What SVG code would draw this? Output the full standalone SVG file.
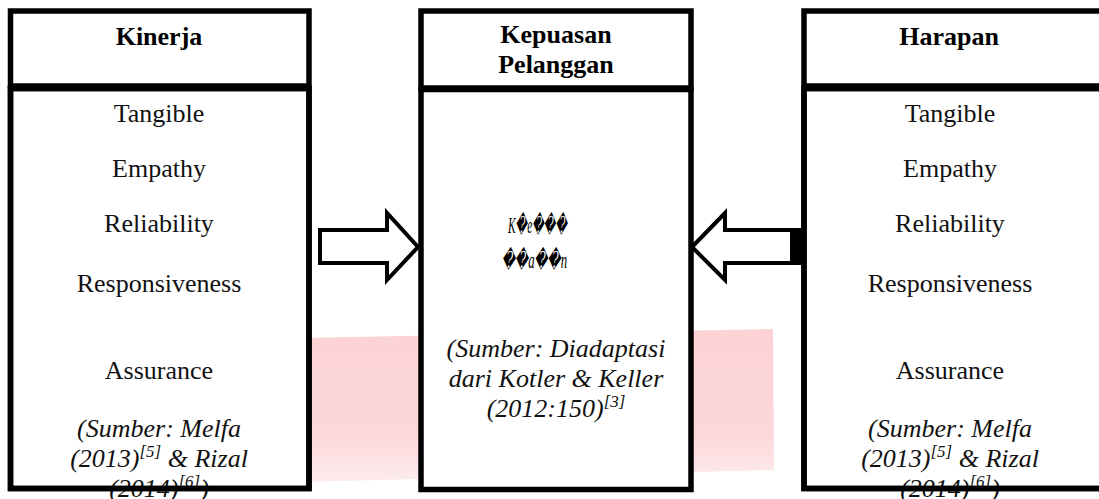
<svg xmlns="http://www.w3.org/2000/svg" width="1099" height="499" viewBox="0 0 1099 499">
<defs>
<linearGradient id="wm" x1="0" y1="0" x2="0" y2="1">
<stop offset="0" stop-color="#fcd2d5"/>
<stop offset="0.7" stop-color="#fcd8da"/>
<stop offset="1" stop-color="#fdeced"/>
</linearGradient>
<style>
.box{fill:#fff;stroke:#000;stroke-width:5.5}
.frame{fill:none;stroke:#000;stroke-width:5.5}
.arrow{fill:#fff;stroke:#000;stroke-width:4;stroke-linejoin:miter}
text{font-family:"Liberation Serif","Times New Roman",serif;font-size:26px;fill:#111;text-anchor:middle}
.h{font-weight:bold;fill:#000}
.it{font-style:italic}
.sup{font-size:17px}
.g{font-style:italic;font-size:23px;font-family:"Liberation Serif","DejaVu Serif",serif;text-anchor:start;fill:#000}
</style>
</defs>
<rect width="1099" height="499" fill="#fff"/>
<g id="watermark">
<polygon points="300,338 773,329 774,470 300,482" fill="url(#wm)"/>
</g>
<g id="connectors">
<polygon class="arrow" points="320,230 387,230 387,213 418,247 387,280 387,263 320,263"/>
<polygon class="arrow" points="692,247 725,213 725,230 800,230 800,263 725,263 725,280"/>
<rect x="790" y="228" width="15" height="37" fill="#000"/>
</g>
<g id="kinerja">
<rect class="box" x="10.5" y="11" width="298.5" height="75"/>
<rect class="box" x="10.5" y="88.5" width="298.5" height="400"/>
<text class="h" x="159" y="45">Kinerja</text>
<text x="159" y="122">Tangible</text>
<text x="159" y="177">Empathy</text>
<text x="159" y="232">Reliability</text>
<text x="159" y="292">Responsiveness</text>
<text x="159" y="379">Assurance</text>
<text class="it" x="159" y="437">(Sumber: Melfa</text>
<text class="it" x="159" y="467">(2013)<tspan class="sup" dy="-10">[5]</tspan><tspan dy="10"> &amp; Rizal</tspan></text>
<text class="it" x="159" y="497">(2014)<tspan class="sup" dy="-10">[6]</tspan><tspan dy="10">)</tspan></text>
<rect class="frame" x="10.5" y="88.5" width="298.5" height="400"/>
</g>
<g id="kepuasan">
<rect class="box" x="421" y="11" width="270" height="77"/>
<rect class="box" x="421" y="89.5" width="270" height="400"/>
<text class="h" x="556" y="43">Kepuasan</text>
<text class="h" x="556" y="73">Pelanggan</text>
<text class="g" x="508" y="233" textLength="59" lengthAdjust="spacingAndGlyphs">K�e���</text>
<text class="g" x="502" y="268" textLength="65" lengthAdjust="spacingAndGlyphs">��a��n</text>
<text class="it" x="556" y="357">(Sumber: Diadaptasi</text>
<text class="it" x="556" y="387">dari Kotler &amp; Keller</text>
<text class="it" x="556" y="417">(2012:150)<tspan class="sup" dy="-10">[3]</tspan></text>
</g>
<g id="harapan">
<rect class="box" x="804" y="11" width="300" height="75"/>
<rect class="box" x="804" y="88.5" width="300" height="400"/>
<text class="h" x="949" y="45">Harapan</text>
<text x="950" y="122">Tangible</text>
<text x="950" y="177">Empathy</text>
<text x="950" y="232">Reliability</text>
<text x="950" y="292">Responsiveness</text>
<text x="950" y="379">Assurance</text>
<text class="it" x="950" y="437">(Sumber: Melfa</text>
<text class="it" x="950" y="467">(2013)<tspan class="sup" dy="-10">[5]</tspan><tspan dy="10"> &amp; Rizal</tspan></text>
<text class="it" x="950" y="497">(2014)<tspan class="sup" dy="-10">[6]</tspan><tspan dy="10">)</tspan></text>
<rect class="frame" x="804" y="88.5" width="300" height="400"/>
</g>
</svg>
